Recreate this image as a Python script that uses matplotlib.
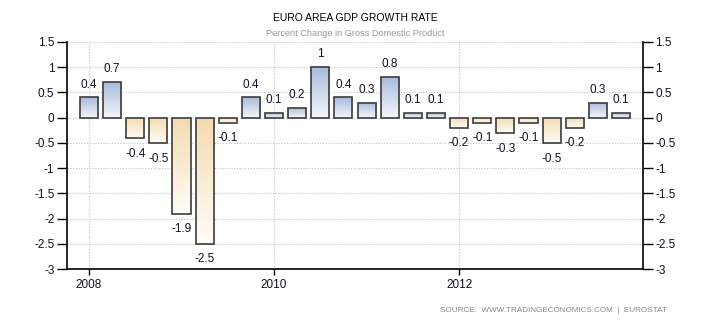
import numpy as np
import matplotlib
matplotlib.use("Agg")
import matplotlib.pyplot as plt
from matplotlib.colors import LinearSegmentedColormap

plt.rcParams["font.family"] = ["Liberation Sans", "DejaVu Sans"]

# ---- data ----
quarters = ["2008Q1", "2008Q2", "2008Q3", "2008Q4",
            "2009Q1", "2009Q2", "2009Q3", "2009Q4",
            "2010Q1", "2010Q2", "2010Q3", "2010Q4",
            "2011Q1", "2011Q2", "2011Q3", "2011Q4",
            "2012Q1", "2012Q2", "2012Q3", "2012Q4",
            "2013Q1", "2013Q2", "2013Q3", "2013Q4"]
growth = [0.4, 0.7, -0.4, -0.5, -1.9, -2.5, -0.1, 0.4,
          0.1, 0.2, 1.0, 0.4, 0.3, 0.8, 0.1, 0.1,
          -0.2, -0.1, -0.3, -0.1, -0.5, -0.2, 0.3, 0.1]
year_ticks = ["2008Q1", "2010Q1", "2012Q1"]
year_labels = ["2008", "2010", "2012"]
y_ticks = [-3, -2.5, -2, -1.5, -1, -0.5, 0, 0.5, 1, 1.5]

title = "EURO AREA GDP GROWTH RATE"
subtitle = "Percent Change in Gross Domestic Product"
source = "SOURCE:  WWW.TRADINGECONOMICS.COM  |  EUROSTAT"

# ---- figure ----
fig = plt.figure(figsize=(7.1, 3.25), dpi=100)
ax = fig.add_axes([67/710, 1-269/325, (643-67)/710, (269-42)/325])

x = np.arange(len(growth))
bars = ax.bar(x, growth, width=0.78, color="none", edgecolor="#3c3c3c",
              linewidth=1.2, zorder=3)

pos_cmap = LinearSegmentedColormap.from_list("pos", ["#f4f6fa", "#a9bcdb"])
neg_cmap = LinearSegmentedColormap.from_list("neg", ["#fffdf8", "#f3dbb0"])
grad = np.linspace(0, 1, 100).reshape(-1, 1)
for b, v in zip(bars, growth):
    x0 = b.get_x()
    w = b.get_width()
    y0 = min(0, v)
    y1 = max(0, v)
    cmap = pos_cmap if v >= 0 else neg_cmap
    im = ax.imshow(grad, extent=[x0, x0 + w, y0, y1], origin="lower",
                   aspect="auto", cmap=cmap, zorder=2, interpolation="bilinear")
    im.set_clip_path(b)

# value labels
for xi, v in zip(x, growth):
    if v >= 0:
        ax.annotate(f"{v:g}", (xi, v), xytext=(0, 5), textcoords="offset points",
                    ha="center", va="bottom", fontsize=8.5, color="#111122")
    else:
        ax.annotate(f"{v:g}", (xi, v), xytext=(0, -7), textcoords="offset points",
                    ha="center", va="top", fontsize=8.5, color="#111122")

ax.set_xlim(-0.95, len(growth) - 0.05)
ax.set_ylim(-3, 1.5)
ax.set_yticks(y_ticks)
ax.set_yticklabels([f"{t:g}" for t in y_ticks])
ax.set_xticks([quarters.index(q) for q in year_ticks])
ax.set_xticklabels(year_labels)

ax.grid(True, linestyle=(0, (1, 1.5)), color="#c4c4c4", linewidth=0.8, zorder=0)
ax.set_axisbelow(True)

ax.spines["top"].set_visible(False)
for s in ["left", "right", "bottom"]:
    ax.spines[s].set_color("#000000")
    ax.spines[s].set_linewidth(1.2)

ax.tick_params(axis="y", which="both", left=True, right=True, labelleft=True,
               labelright=True, length=7, width=1, direction="out",
               labelsize=8.5, colors="#000000", labelcolor="#111122", pad=2)
ax.tick_params(axis="x", length=4, width=1, direction="out",
               labelsize=8.5, colors="#000000", labelcolor="#111122", pad=3)

fig.text(355/710, 1-18/325, title, ha="center", va="center",
         fontsize=7.5, color="#000000", fontweight="medium")
fig.text(355/710, 1-34/325, subtitle, ha="center", va="center",
         fontsize=6.6, color="#999999")
fig.text(667/710, 1-310/325, source, ha="right", va="center",
         fontsize=5.9, color="#8a8a8a")

fig.savefig("out.png", dpi=100)
